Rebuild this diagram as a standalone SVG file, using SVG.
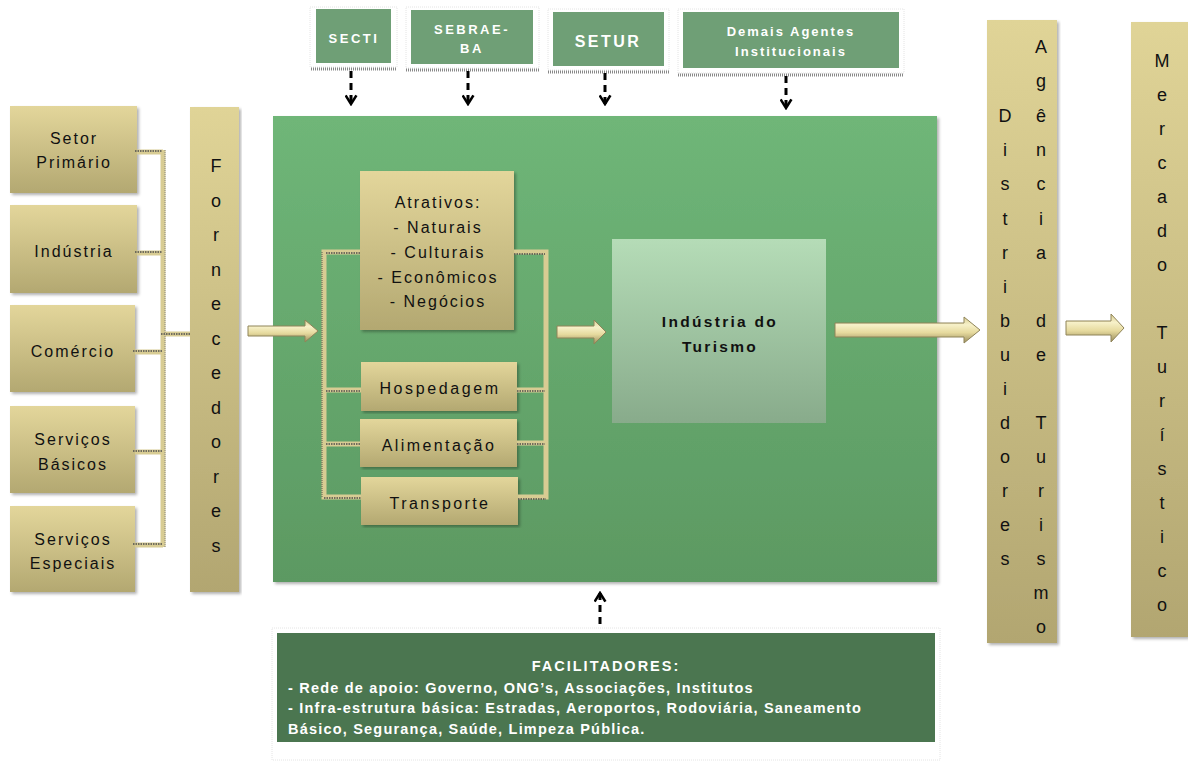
<svg xmlns="http://www.w3.org/2000/svg" width="1188" height="762" viewBox="0 0 1188 762">
  <defs>
    <linearGradient id="tan" x1="0" y1="0" x2="0" y2="1">
      <stop offset="0" stop-color="#e3d69b"/>
      <stop offset="1" stop-color="#b3a871"/>
    </linearGradient>
    <linearGradient id="tanCol" x1="0" y1="0" x2="0" y2="1">
      <stop offset="0" stop-color="#e0d497"/>
      <stop offset="1" stop-color="#b2a671"/>
    </linearGradient>
    <linearGradient id="mainGreen" x1="0" y1="0" x2="0" y2="1">
      <stop offset="0" stop-color="#6fb678"/>
      <stop offset="1" stop-color="#5c9962"/>
    </linearGradient>
    <linearGradient id="coreGreen" x1="0" y1="0" x2="0" y2="1">
      <stop offset="0" stop-color="#b5dcb7"/>
      <stop offset="1" stop-color="#88ab8b"/>
    </linearGradient>
    <linearGradient id="arrowFill" x1="0" y1="0" x2="0" y2="1">
      <stop offset="0" stop-color="#d9cd92"/>
      <stop offset="0.3" stop-color="#f7f1c9"/>
      <stop offset="0.6" stop-color="#e6da9e"/>
      <stop offset="1" stop-color="#9a8d5d"/>
    </linearGradient>
    <filter id="shadow" x="-5%" y="-5%" width="110%" height="110%">
      <feDropShadow dx="2" dy="2" stdDeviation="1.5" flood-color="#000" flood-opacity="0.3"/>
    </filter>
    <marker id="chev" viewBox="0 0 12 12" refX="10" refY="6" markerWidth="13" markerHeight="13" markerUnits="userSpaceOnUse" orient="auto">
      <path d="M2,1 L10,6 L2,11" fill="none" stroke="#000" stroke-width="2.4"/>
    </marker>
  </defs>
  <style>
    .box { fill: url(#tan); filter: url(#shadow); }
    .col { fill: url(#tanCol); filter: url(#shadow); }
    .lbl { font-family: "Liberation Sans", Arial, sans-serif; font-size: 16px; fill: #111; text-anchor: middle; letter-spacing: 2px; }
    .vl { font-family: "Liberation Sans", Arial, sans-serif; font-size: 18px; fill: #111; text-anchor: middle; }
    .agent { fill: #6f9f76; }
    .agentFrame { fill: #fff; stroke: #ddd; stroke-width: 0.8; stroke-dasharray: 1 1; }
    .agentTxt { font-family: "Liberation Sans", Arial, sans-serif; font-size: 13px; font-weight: bold; fill: #fff; text-anchor: middle; letter-spacing: 2.5px; }
    .under { stroke: #888; stroke-width: 3; stroke-dasharray: 1 1; }
    .bar { fill: none; stroke: #d8cc93; stroke-width: 5; }
    .barEdge { fill: none; stroke: #4d4d4d; stroke-width: 1.5; stroke-dasharray: 1.5 1; }
    .dash { stroke: #000; stroke-width: 3; stroke-dasharray: 7 5; fill: none; }
    .blk { fill: url(#arrowFill); stroke: #8f8459; stroke-width: 1; }
    .facTxt { font-family: "Liberation Sans", Arial, sans-serif; font-size: 14.5px; font-weight: bold; fill: #fff; letter-spacing: 1.2px; }
  </style>

  <!-- institutional agents along the top -->
  <g id="secti">
    <rect class="agentFrame" x="310" y="7" width="87" height="60"/>
    <rect class="agent" x="316" y="9" width="75" height="54"/>
    <line class="under" x1="311" y1="69" x2="396" y2="69"/>
    <text class="agentTxt" x="354" y="43">SECTI</text>
  </g>
  <g id="sebrae">
    <rect class="agentFrame" x="406" y="7" width="133" height="61"/>
    <rect class="agent" x="411" y="10" width="122" height="54"/>
    <line class="under" x1="406" y1="70" x2="539" y2="70"/>
    <text class="agentTxt" x="472" y="34">SEBRAE-</text>
    <text class="agentTxt" x="472" y="53">BA</text>
  </g>
  <g id="setur">
    <rect class="agentFrame" x="548" y="9" width="121" height="61"/>
    <rect class="agent" x="553" y="12" width="111" height="54"/>
    <line class="under" x1="548" y1="72" x2="669" y2="72"/>
    <text class="agentTxt" x="608" y="47" style="font-size:16px">SETUR</text>
  </g>
  <g id="demais">
    <rect class="agentFrame" x="678" y="9" width="226" height="64"/>
    <rect class="agent" x="683" y="12" width="216" height="56"/>
    <line class="under" x1="678" y1="75" x2="904" y2="75"/>
    <text class="agentTxt" x="791" y="36" style="letter-spacing:2px">Demais Agentes</text>
    <text class="agentTxt" x="791" y="56" style="letter-spacing:2px">Institucionais</text>
  </g>

  <!-- main tourism system frame -->
  <g id="sistema">
    <rect x="273" y="116" width="664" height="466" fill="url(#mainGreen)" filter="url(#shadow)"/>
  </g>

  <!-- supplier sectors -->
  <g id="setor-primario">
    <rect class="box" x="10" y="106" width="127" height="87"/>
    <text class="lbl" x="74" y="144">Setor</text>
    <text class="lbl" x="74" y="168">Primário</text>
  </g>
  <g id="industria">
    <rect class="box" x="10" y="205" width="127" height="88"/>
    <text class="lbl" x="74" y="257">Indústria</text>
  </g>
  <g id="comercio">
    <rect class="box" x="10" y="305" width="125" height="87"/>
    <text class="lbl" x="73" y="357">Comércio</text>
  </g>
  <g id="servicos-basicos">
    <rect class="box" x="10" y="406" width="125" height="87"/>
    <text class="lbl" x="73" y="445">Serviços</text>
    <text class="lbl" x="73" y="470">Básicos</text>
  </g>
  <g id="servicos-especiais">
    <rect class="box" x="10" y="506" width="125" height="86"/>
    <text class="lbl" x="73" y="545">Serviços</text>
    <text class="lbl" x="73" y="569">Especiais</text>
  </g>

  <g id="fornecedores">
    <rect class="col" x="190" y="107" width="49" height="485"/>
    <text class="vl" x="216" y="172">F</text>
    <text class="vl" x="216" y="207">o</text>
    <text class="vl" x="216" y="241">r</text>
    <text class="vl" x="216" y="276">n</text>
    <text class="vl" x="216" y="310">e</text>
    <text class="vl" x="216" y="345">c</text>
    <text class="vl" x="216" y="379">e</text>
    <text class="vl" x="216" y="414">d</text>
    <text class="vl" x="216" y="448">o</text>
    <text class="vl" x="216" y="483">r</text>
    <text class="vl" x="216" y="517">e</text>
    <text class="vl" x="216" y="552">s</text>
  </g>

  <!-- tourism offer components -->
  <g id="atrativos">
    <rect class="box" x="360" y="171" width="154" height="159"/>
    <text class="lbl" x="438" y="208">Atrativos:</text>
    <text class="lbl" x="438" y="233">- Naturais</text>
    <text class="lbl" x="438" y="258">- Culturais</text>
    <text class="lbl" x="438" y="283">- Econômicos</text>
    <text class="lbl" x="438" y="307">- Negócios</text>
  </g>
  <g id="hospedagem">
    <rect class="box" x="361" y="362" width="156" height="49"/>
    <text class="lbl" x="440" y="394" style="letter-spacing:2.6px">Hospedagem</text>
  </g>
  <g id="alimentacao">
    <rect class="box" x="360" y="419" width="157" height="48"/>
    <text class="lbl" x="439" y="451" style="letter-spacing:2.4px">Alimentação</text>
  </g>
  <g id="transporte">
    <rect class="box" x="361" y="477" width="157" height="48"/>
    <text class="lbl" x="440" y="509" style="letter-spacing:2.4px">Transporte</text>
  </g>

  <g id="industria-turismo">
    <rect x="612" y="239" width="214" height="184" fill="url(#coreGreen)"/>
    <text x="720" y="327" font-family="'Liberation Sans', Arial, sans-serif" font-size="15.5" font-weight="bold" fill="#111" text-anchor="middle" letter-spacing="2.3">Indústria do</text>
    <text x="720" y="352" font-family="'Liberation Sans', Arial, sans-serif" font-size="15.5" font-weight="bold" fill="#111" text-anchor="middle" letter-spacing="2.3">Turismo</text>
  </g>

  <!-- distribution and market -->
  <g id="distribuidores">
    <rect class="col" x="987" y="20" width="70" height="623"/>
    <g>
      <text class="vl" x="1005" y="122">D</text>
      <text class="vl" x="1005" y="156">i</text>
      <text class="vl" x="1005" y="190">s</text>
      <text class="vl" x="1005" y="225">t</text>
      <text class="vl" x="1005" y="259">r</text>
      <text class="vl" x="1005" y="293">i</text>
      <text class="vl" x="1005" y="327">b</text>
      <text class="vl" x="1005" y="361">u</text>
      <text class="vl" x="1005" y="395">i</text>
      <text class="vl" x="1005" y="429">d</text>
      <text class="vl" x="1005" y="463">o</text>
      <text class="vl" x="1005" y="497">r</text>
      <text class="vl" x="1005" y="531">e</text>
      <text class="vl" x="1005" y="565">s</text>
    </g>
    <g>
      <text class="vl" x="1041" y="53">A</text>
      <text class="vl" x="1041" y="87">g</text>
      <text class="vl" x="1041" y="122">ê</text>
      <text class="vl" x="1041" y="156">n</text>
      <text class="vl" x="1041" y="190">c</text>
      <text class="vl" x="1041" y="225">i</text>
      <text class="vl" x="1041" y="259">a</text>
      <text class="vl" x="1041" y="327">d</text>
      <text class="vl" x="1041" y="361">e</text>
      <text class="vl" x="1041" y="429">T</text>
      <text class="vl" x="1041" y="463">u</text>
      <text class="vl" x="1041" y="497">r</text>
      <text class="vl" x="1041" y="531">i</text>
      <text class="vl" x="1041" y="565">s</text>
      <text class="vl" x="1041" y="599">m</text>
      <text class="vl" x="1041" y="633">o</text>
    </g>
  </g>

  <g id="mercado">
    <rect class="col" x="1131" y="22" width="57" height="615"/>
    <text class="vl" x="1162" y="67">M</text>
    <text class="vl" x="1162" y="101">e</text>
    <text class="vl" x="1162" y="135">r</text>
    <text class="vl" x="1162" y="169">c</text>
    <text class="vl" x="1162" y="203">a</text>
    <text class="vl" x="1162" y="237">d</text>
    <text class="vl" x="1162" y="271">o</text>
    <text class="vl" x="1162" y="339">T</text>
    <text class="vl" x="1162" y="373">u</text>
    <text class="vl" x="1162" y="407">r</text>
    <text class="vl" x="1162" y="441">í</text>
    <text class="vl" x="1162" y="475">s</text>
    <text class="vl" x="1162" y="509">t</text>
    <text class="vl" x="1162" y="543">i</text>
    <text class="vl" x="1162" y="577">c</text>
    <text class="vl" x="1162" y="611">o</text>
  </g>

  <!-- support facilitators -->
  <g id="facilitadores">
    <rect x="272" y="628" width="668" height="132" fill="#fff" stroke="#ddd" stroke-width="0.8" stroke-dasharray="1 1"/>
    <rect x="277" y="633" width="658" height="109" fill="#4b7650"/>
    <text class="facTxt" x="606" y="671" text-anchor="middle" style="letter-spacing:2px">FACILITADORES:</text>
    <text class="facTxt" x="288" y="693">- Rede de apoio: Governo, ONG’s, Associações, Institutos</text>
    <text class="facTxt" x="288" y="713">- Infra-estrutura básica: Estradas, Aeroportos, Rodoviária, Saneamento</text>
    <text class="facTxt" x="288" y="734">Básico, Segurança, Saúde, Limpeza Pública.</text>
  </g>

  <!-- connectors -->
  <g id="connectors">
    <!-- supplier sectors feed into the supplier column -->
    <path class="bar" d="M137,152 H163 M137,253 H163 M135,352 H163 M135,452 H163 M135,545 H163 M163,150 V547 M163,334 H190"/>
    <path class="barEdge" d="M135,151 H162 M135,252 H162 M133,351 H162 M133,451 H162 M133,544 H162 M161,334 H190"/>
    <path d="M165,150 V547" fill="none" stroke="#777" stroke-width="0.8" stroke-dasharray="1 1"/>

    <!-- offer components, left bracket -->
    <path class="bar" d="M360,252 H324 V497 H361 M324,390 H361 M324,444 H360"/>
    <path class="barEdge" d="M326,253 H360 M326,391 H361 M326,444 H360 M324,498 H361"/>
    <path d="M322,252 V498" fill="none" stroke="#444" stroke-width="0.8" stroke-dasharray="1 1"/>
    <!-- offer components, right bracket -->
    <path class="bar" d="M514,252 H546 V497 H518 M517,390 H546 M517,443 H546"/>
    <path class="barEdge" d="M514,254 H545 M517,391 H545 M517,444 H545 M518,499 H546"/>

    <!-- block arrows -->
    <path class="blk" d="M248,326 H305 V320 L318,331 L305,342 V336 H248 Z"/>
    <path class="blk" d="M557,326 H594 V320 L606,332 L594,344 V338 H557 Z"/>
    <path class="blk" d="M835,323 H964 V317 L980,330 L964,343 V337 H835 Z"/>
    <path class="blk" d="M1066,321 H1111 V314 L1124,328 L1111,342 V335 H1066 Z"/>

    <!-- agents influence the system -->
    <line class="dash" x1="351" y1="71" x2="351" y2="104" marker-end="url(#chev)"/>
    <line class="dash" x1="468" y1="71" x2="468" y2="104" marker-end="url(#chev)"/>
    <line class="dash" x1="605" y1="73" x2="605" y2="104" marker-end="url(#chev)"/>
    <line class="dash" x1="786" y1="76" x2="786" y2="108" marker-end="url(#chev)"/>
    <!-- facilitators support the system -->
    <line class="dash" x1="600" y1="624" x2="600" y2="593" marker-end="url(#chev)"/>
  </g>
</svg>
